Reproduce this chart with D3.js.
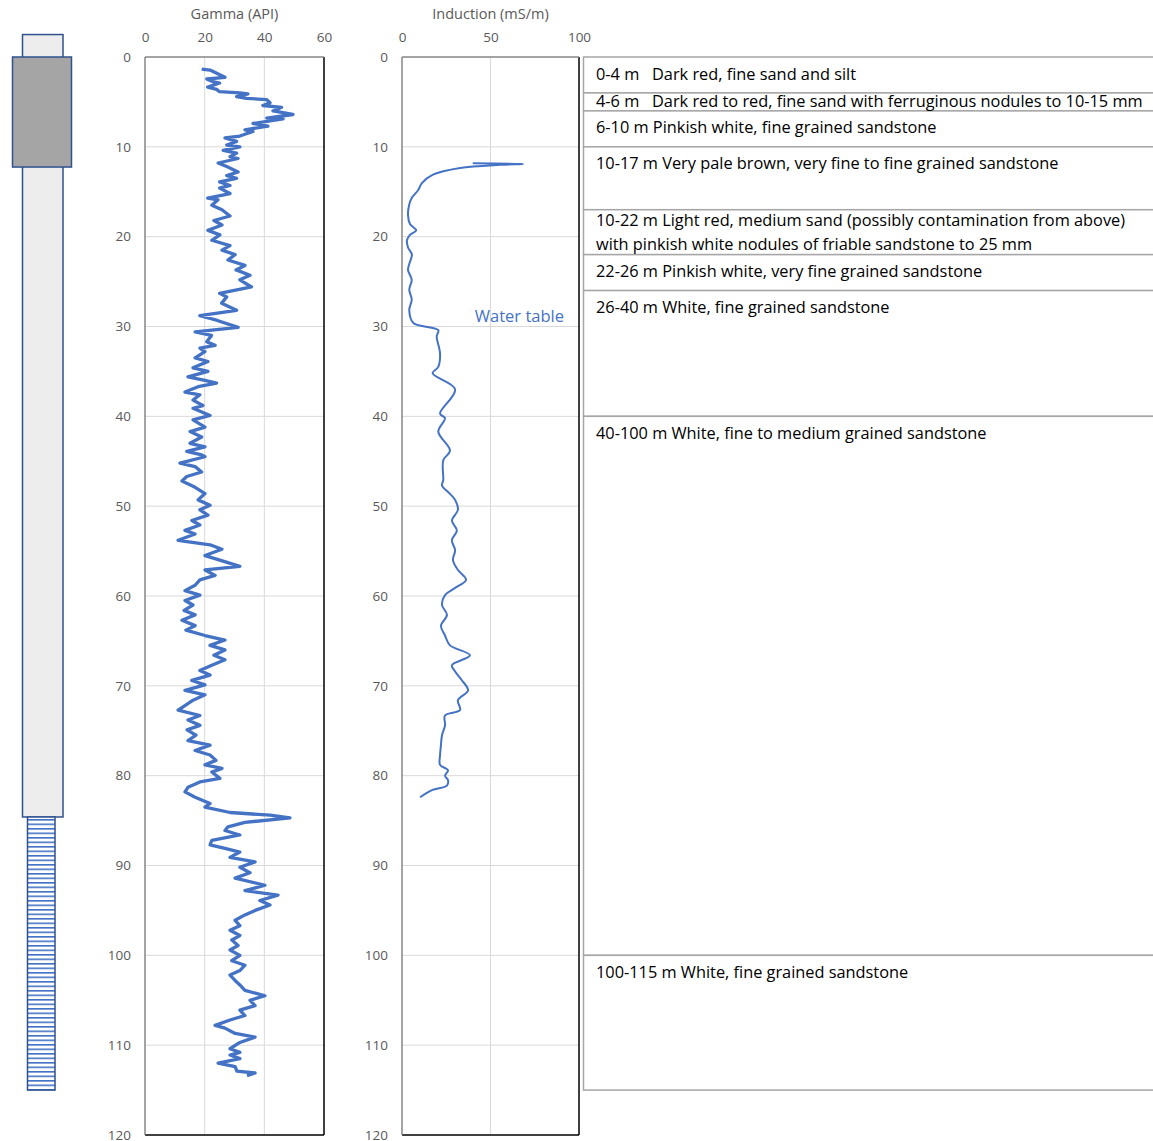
<!DOCTYPE html>
<html>
<head>
<meta charset="utf-8">
<script src="https://cdn.jsdelivr.net/npm/d3@7"></script>
<style>
  body { margin: 0; background: #fff; }
  text { font-family: "Open Sans", sans-serif; white-space: pre; }
</style>
</head>
<body>
<svg id="chart" width="1153" height="1141"></svg>
<script>
// depth ticks (m) and value ticks
var depthTicks = [0, 10, 20, 30, 40, 50, 60, 70, 80, 90, 100, 110, 120]
var gammaTicks = [0, 20, 40, 60]
var inductionTicks = [0, 50, 100]

// well construction, depths in m
var casingDepth = [-2.5, 84.6]
var conductorDepth = [0, 12.25]
var screenDepth = [84.6, 115]

// lithology intervals
var litBounds = [0, 4, 6, 10, 17, 22, 26, 40, 100, 115]
var litLabels = [
    ["0-4 m   Dark red, fine sand and silt"],
    ["4-6 m   Dark red to red, fine sand with ferruginous nodules to 10-15 mm"],
    ["6-10 m Pinkish white, fine grained sandstone"],
    ["10-17 m Very pale brown, very fine to fine grained sandstone"],
    ["10-22 m Light red, medium sand (possibly contamination from above)", "with pinkish white nodules of friable sandstone to 25 mm"],
    ["22-26 m Pinkish white, very fine grained sandstone"],
    ["26-40 m White, fine grained sandstone"],
    ["40-100 m White, fine to medium grained sandstone"],
    ["100-115 m White, fine grained sandstone"]
]

// gamma log: [depth m, API]
var gamma = [
    [1.34, 19], [1.45, 21.8], [2.26, 26.8], [2.45, 20.7], [2.75, 22.8], [2.9, 25], [3.35, 21], [3.6, 24], [3.86, 25],
    [4.0, 31.8], [4.1, 34.5], [4.4, 30.7], [4.6, 34], [4.75, 40.8], [5.1, 41.9], [5.4, 39.5], [5.6, 45.8], [6.0, 42.9],
    [6.4, 49.6], [6.8, 40.8], [6.9, 46.3], [7.4, 36.2], [7.7, 41.2], [8.1, 33.5], [8.3, 36.2], [8.8, 31.8], [9.0, 26.8],
    [9.4, 30.7], [9.8, 27.4], [10.0, 31.8], [10.4, 26.2], [10.7, 30.7], [11.1, 28.5], [11.3, 31.2], [11.8, 24.5],
    [12.2, 27.4], [12.8, 31.2], [13.2, 27.4], [13.5, 30.7], [13.9, 25], [14.3, 28.5], [14.6, 25], [15.2, 28.5], [15.7, 21],
    [15.9, 24.5], [16.5, 22.4], [17.0, 25.8], [17.7, 28.5], [18.2, 23.1], [18.7, 25.8], [19.3, 21.1], [19.8, 25.1],
    [20.4, 22.4], [21.0, 28.5], [21.5, 25.8], [22.0, 30.2], [22.6, 27.8], [23.2, 33.5], [23.7, 30.5], [24.3, 35.2],
    [24.8, 31.8], [25.6, 35.7], [26.3, 25], [26.7, 27.4], [27.4, 25.7], [28.2, 30.7], [28.8, 18.4], [29.3, 24],
    [30.1, 31.2], [30.6, 16.8], [31.0, 22.3], [31.7, 20.7], [32.1, 23.5], [32.4, 18.4], [32.8, 20.1], [33.5, 16.8],
    [33.9, 21.1], [34.6, 16.1], [35.0, 21.1], [35.6, 14.4], [36.0, 20.1], [36.3, 24], [36.7, 17.8], [37.3, 13.4],
    [37.6, 18.4], [38.2, 16.1], [38.8, 19.4], [39.1, 16.1], [39.9, 21.8], [40.4, 16.1], [41.2, 20.1], [41.7, 15.1],
    [42.3, 19], [43.0, 15.1], [43.4, 20.1], [43.9, 14], [44.3, 19], [44.5, 20.1], [45.2, 11.7], [45.6, 16.8], [46.2, 19],
    [46.7, 14], [47.2, 12.4], [47.9, 16.8], [48.6, 20.1], [49.3, 17.8], [49.9, 21.8], [50.4, 18.4], [51.0, 21.1],
    [51.6, 15.7], [52.1, 18.4], [52.7, 13.4], [53.1, 16.8], [53.8, 11.1], [54.3, 21.8], [54.8, 25.8], [55.5, 20.1],
    [56.0, 25.1], [56.7, 31.8], [57.1, 20.1], [57.7, 23.5], [58.2, 18.4], [58.8, 16.8], [59.4, 13.4], [59.9, 18.4],
    [60.5, 13.4], [61.0, 16.1], [61.6, 13.1], [62.1, 16.8], [62.7, 12.4], [63.3, 16.8], [63.8, 13.7], [64.4, 20.1],
    [64.9, 26.8], [65.5, 21.8], [66.0, 26.8], [66.6, 23.1], [67.1, 26.8], [67.7, 22.4], [68.3, 18.4], [68.8, 21.8],
    [69.4, 15.7], [69.9, 20.1], [70.5, 13.4], [71.0, 20.1], [71.6, 16.1], [72.2, 13.4], [72.7, 11.1], [73.3, 18.4],
    [73.8, 14.4], [74.4, 18.4], [74.9, 14.1], [75.5, 17.1], [76.1, 14.4], [76.6, 21.8], [77.2, 16.8], [77.7, 21.8],
    [78.3, 23.8], [78.8, 20.1], [79.2, 25.8], [79.6, 22.4], [80.3, 25.1], [80.7, 18.4], [81.3, 14.4], [81.8, 13.4],
    [82.4, 16.8], [83.1, 21.8], [83.5, 20.1], [84.1, 28.5], [84.4, 41.9], [84.7, 48.6], [85.2, 33.5], [85.7, 27.8],
    [86.1, 26.8], [86.6, 31.8], [87.2, 22.4], [87.7, 21.8], [88.1, 26.8], [88.5, 31.8], [89.1, 28.5], [89.6, 36.9],
    [90.2, 31.8], [90.8, 35.2], [91.4, 30.2], [92.2, 40.2], [92.8, 33.5], [93.3, 44.6], [93.9, 38.5], [94.4, 41.9],
    [95.0, 36.9], [95.5, 33.5], [96.1, 30.2], [96.7, 31.8], [97.2, 28.5], [97.8, 31.8], [98.3, 29.1], [98.9, 31.2],
    [99.4, 28.5], [100.0, 31.8], [100.6, 29.1], [101.1, 33.5], [101.7, 31.8], [102.2, 28.5], [102.8, 30.2], [103.3, 31.8],
    [103.9, 33.5], [104.5, 40.2], [105.0, 35.2], [105.6, 36.9], [106.1, 31.8], [106.7, 33.5], [107.2, 28.5], [107.8, 23.5],
    [108.1, 26.8], [108.7, 30.2], [109.1, 36.9], [109.7, 31.8], [110.4, 28.5], [110.8, 31.8], [111.1, 28.5], [111.5, 31.8],
    [112.0, 24.5], [112.4, 30.2], [112.9, 30.8], [113.1, 36.9], [113.4, 34.2]
]

// induction log: [depth m, mS/m]
var induction = [
    [11.84, 40], [11.9, 68.4], [12.0, 55.4], [12.36, 32.8], [13.1, 17.5], [14.07, 11.1], [14.8, 9.2], [15.7, 5.5],
    [16.5, 4], [17.6, 3.4], [18.6, 4.5], [19.3, 8], [19.8, 4.5], [20.4, 2.8], [21.2, 3.4], [22.0, 5.6], [22.8, 4.5],
    [23.7, 3.4], [24.8, 5.5], [25.9, 4.1], [27.0, 5.5], [28.2, 4.1], [29.6, 6.4], [30.4, 20.5], [31.1, 19.6],
    [33.0, 21.5], [34.5, 20.5], [35.2, 17.3], [37.0, 30], [39.7, 21.5], [40.2, 24.3], [41.7, 20.5], [43.8, 27.1],
    [44.9, 23.3], [47.1, 23.3], [47.7, 22.6], [48.6, 27], [49.3, 30], [50.4, 31.6], [51.6, 28.2], [52.7, 31],
    [53.8, 28.2], [54.9, 30], [56.0, 28.8], [57.1, 31.6], [58.2, 36.2], [59.1, 30], [59.9, 24.3], [61.0, 22.6],
    [62.1, 25.4], [63.3, 22], [64.4, 24.3], [65.5, 27.1], [66.6, 38.4], [67.7, 28.2], [68.4, 30], [69.4, 33.9],
    [70.5, 37.3], [71.6, 31.6], [72.7, 32.8], [73.3, 24.3], [74.4, 24.3], [75.5, 22.6], [76.6, 22], [77.7, 21.5],
    [78.8, 21.5], [79.4, 26], [80.0, 24.3], [80.5, 26], [81.1, 25.4], [81.6, 16.9], [82.4, 10.2]
]

var waterTable = { depth: 28.8, label: "Water table" }

var svg = d3.select("#chart")
var blue = "#4472C4"
var grey = "#595959"

var yDepth = d3.scaleLinear().domain([0, 120]).range([57, 1135])
var xGamma = d3.scaleLinear().domain([0, 60]).range([145, 324])
var xInd = d3.scaleLinear().domain([0, 100]).range([402, 579])

// ---- well diagram ----
var well = svg.append("g").attr("class", "well")
var defs = svg.append("defs")
var pat = defs.append("pattern")
    .attr("id", "screen")
    .attr("patternUnits", "userSpaceOnUse")
    .attr("width", 40).attr("height", 4.5)
pat.append("rect").attr("width", 40).attr("height", 4.5).attr("fill", "#fff")
pat.append("rect").attr("y", 0).attr("width", 40).attr("height", 1.6).attr("fill", blue)

well.append("rect")
    .attr("x", 22.5).attr("width", 40.5)
    .attr("y", yDepth(casingDepth[0])).attr("height", yDepth(casingDepth[1]) - yDepth(casingDepth[0]))
    .attr("fill", "#EDEDED").attr("stroke", "#2F528F").attr("stroke-width", 1.5)
well.append("rect")
    .attr("x", 12.5).attr("width", 59)
    .attr("y", yDepth(conductorDepth[0])).attr("height", yDepth(conductorDepth[1]) - yDepth(conductorDepth[0]))
    .attr("fill", "#A5A5A5").attr("stroke", "#2F528F").attr("stroke-width", 1.5)
well.append("rect")
    .attr("x", 27.5).attr("width", 27.5)
    .attr("y", yDepth(screenDepth[0])).attr("height", yDepth(screenDepth[1]) - yDepth(screenDepth[0]))
    .attr("fill", "url(#screen)").attr("stroke", "#2F528F").attr("stroke-width", 1.5)

// ---- log tracks ----
function drawTrack(xScale, ticks, title, data, lineWidth, curve) {
    var g = svg.append("g")
    var x0 = xScale.range()[0], x1 = xScale.range()[1]
    var y0 = yDepth.range()[0], y1 = yDepth.range()[1]

    // gridlines
    g.append("g").selectAll("line")
        .data(depthTicks.slice(1, -1))
        .enter().append("line")
        .attr("x1", x0).attr("x2", x1)
        .attr("y1", function (d) { return yDepth(d) }).attr("y2", function (d) { return yDepth(d) })
        .attr("stroke", "#D9D9D9").attr("stroke-width", 1)
    g.append("g").selectAll("line")
        .data(ticks.slice(1, -1))
        .enter().append("line")
        .attr("x1", function (d) { return xScale(d) }).attr("x2", function (d) { return xScale(d) })
        .attr("y1", y0).attr("y2", y1)
        .attr("stroke", "#D9D9D9").attr("stroke-width", 1)

    // axes
    g.append("g")
        .attr("transform", "translate(0," + y0 + ")")
        .call(d3.axisTop(xScale).tickValues(ticks).tickSize(0).tickPadding(15))
    g.append("g")
        .attr("transform", "translate(" + x0 + ",0)")
        .call(d3.axisLeft(yDepth).tickValues(depthTicks).tickSize(0).tickPadding(14))
    g.selectAll(".domain").remove()
    g.selectAll(".tick text").attr("fill", grey).style("font-size", "13.5px")
        .style("font-family", "'Open Sans', sans-serif")

    // frame
    g.append("line").attr("x1", x1).attr("x2", x1).attr("y1", y0).attr("y2", y1)
        .attr("stroke", "#000").attr("stroke-width", 1.5)
    g.append("line").attr("x1", x0).attr("x2", x1).attr("y1", y1).attr("y2", y1)
        .attr("stroke", "#000").attr("stroke-width", 1.5)
    g.append("line").attr("x1", x0).attr("x2", x1).attr("y1", y0).attr("y2", y0)
        .attr("stroke", "#868686").attr("stroke-width", 1.5)
    g.append("line").attr("x1", x0).attr("x2", x0).attr("y1", y0).attr("y2", y1)
        .attr("stroke", "#868686").attr("stroke-width", 1.5)

    g.append("text")
        .attr("x", (x0 + x1) / 2).attr("y", 19)
        .attr("text-anchor", "middle")
        .attr("fill", grey).style("font-size", "14.5px")
        .text(title)

    var line = d3.line()
        .x(function (d) { return xScale(d[1]) })
        .y(function (d) { return yDepth(d[0]) })
        .curve(curve)
    g.append("path")
        .datum(data)
        .attr("d", line)
        .attr("fill", "none")
        .attr("stroke", blue)
        .attr("stroke-width", lineWidth)
        .attr("stroke-linejoin", "round")
    return g
}

drawTrack(xGamma, gammaTicks, "Gamma (API)", gamma, 3.3, d3.curveLinear)
var indG = drawTrack(xInd, inductionTicks, "Induction (mS/m)", induction, 2, d3.curveCatmullRom.alpha(0.5))

indG.append("text")
    .attr("x", xInd(91.5)).attr("y", yDepth(waterTable.depth) + 6)
    .attr("text-anchor", "end")
    .attr("fill", blue).style("font-size", "16.5px")
    .text(waterTable.label)

// ---- lithology column ----
var lit = svg.append("g").attr("class", "lithology")
var litX = 583.5
lit.selectAll("rect")
    .data(litLabels)
    .enter().append("rect")
    .attr("x", litX).attr("width", 1153 - litX + 5)
    .attr("y", function (d, i) { return yDepth(litBounds[i]) })
    .attr("height", function (d, i) { return yDepth(litBounds[i + 1]) - yDepth(litBounds[i]) })
    .attr("fill", "#fff").attr("stroke", "#A6A6A6").attr("stroke-width", 1.5)

var litText = lit.selectAll("text")
    .data(litLabels)
    .enter().append("text")
    .attr("x", 596)
    .attr("y", function (d, i) {
        var t = yDepth(litBounds[i]), b = yDepth(litBounds[i + 1])
        var center = Math.min(t + 17 + (d.length - 1) * 12, (t + b) / 2)
        return center - (d.length - 1) * 12 + 5.5
    })
    .attr("fill", "#000").style("font-size", "16px")
    .each(function (d) {
        var el = d3.select(this)
        var x = el.attr("x")
        d.forEach(function (s, k) {
            el.append("tspan").attr("x", x).attr("dy", k == 0 ? 0 : 24).text(s)
        })
    })

// fit the widest line (4-6 m) to the width it has in the log sheet
var widest = litText.filter(function (d, i) { return i == 1 }).node().getComputedTextLength()
var fitSize = 16 * 547 / widest
litText.style("font-size", fitSize + "px")
</script>
</body>
</html>
